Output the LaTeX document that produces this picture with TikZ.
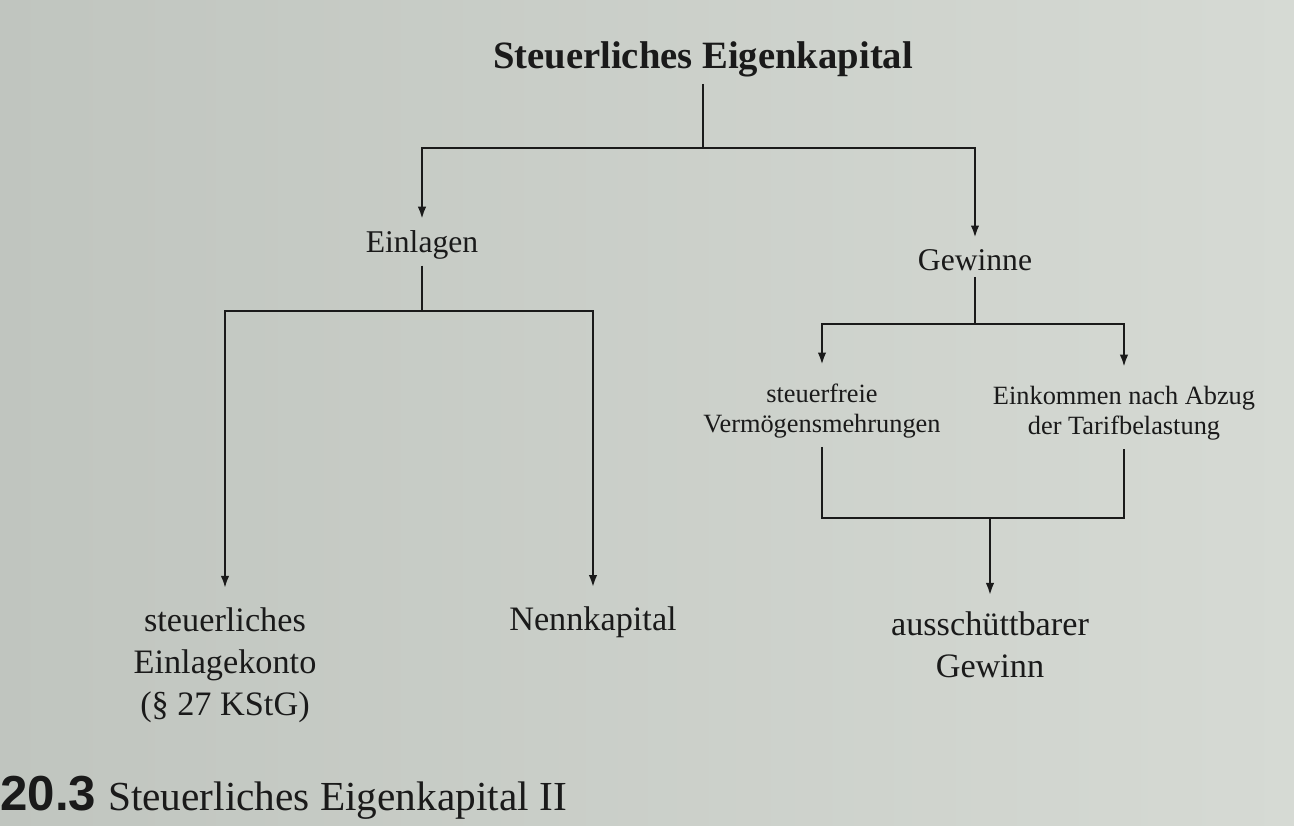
\documentclass[tikz,border=0pt]{standalone}
\usepackage{fontspec}
\setmainfont{Liberation Serif}
\newfontfamily\capsans{Liberation Sans}
\usetikzlibrary{arrows.meta}
\usetikzlibrary{calc}
\definecolor{paper}{RGB}{224,227,221}
\definecolor{paperdark}{RGB}{192,197,191}
\definecolor{paperright}{RGB}{214,218,212}
\definecolor{ink}{RGB}{26,26,26}

\begin{document}
\begin{tikzpicture}[>={Latex[length=2.5mm,width=1.7mm]},
  line/.style={draw=ink, line width=1.6pt},
  arr/.style={line, ->},
  big/.style={text=ink, font=\fontsize{18}{24}\selectfont, align=center, inner sep=2pt},
  bottom/.style={text=ink, font=\fontsize{19.5}{24}\selectfont, align=center, inner sep=2pt},
  small/.style={text=ink, font=\fontsize{15}{17}\selectfont, align=center, inner sep=2pt}]

% background
\shade[left color=paperdark, middle color=paper, right color=paperright] (0,0) rectangle (25.88,-16.52);
\useasboundingbox (0,0) rectangle (25.88,-16.52);

% nodes
\node (titel) at (14.06,-1.18) [text=ink, font=\fontsize{22}{26}\bfseries] {Steuerliches Eigenkapital};
\node (einlagen) at (8.44,-4.9) [big] {Einlagen};
\node (gewinne) at (19.5,-5.2) [big] {Gewinne};
\node (konto) at (4.5,-13.3) [bottom] {steuerliches\\Einlagekonto\\(\S\ 27 KStG)};
\node (nennkapital) at (11.86,-12.44) [bottom] {Nennkapital};
\node (steuerfrei) at (16.44,-8.22) [small] {steuerfreie\\Vermögensmehrungen};
\node (einkommen) at (22.48,-8.26) [small] {Einkommen nach Abzug\\der Tarifbelastung};
\node (gewinn) at (19.8,-12.9) [bottom] {ausschüttbarer\\Gewinn};

% first level
\coordinate (j1) at (titel.south |- 0,-2.96);
\draw[line] (titel.south) ++(0,-0.02) -- (j1);
\draw[arr] (j1) -| ($(einlagen.north)+(0,0.15)$);
\draw[arr] (j1) -| ($(gewinne.north)+(0,0.15)$);

% Einlagen
\coordinate (j2) at (einlagen.south |- 0,-6.22);
\draw[line] (einlagen.south) ++(0,-0.05) -- (j2);
\draw[arr] (j2) -| ($(konto.north)+(0,0.3)$);
\draw[arr] (j2) -| ($(nennkapital.north)+(0,0.3)$);

% Gewinne
\coordinate (j3) at (gewinne.south |- 0,-6.48);
\draw[line] (gewinne.south) ++(0,-0.05) -- (j3);
\draw[arr] (j3) -| ($(steuerfrei.north)+(0,0.3)$);
\draw[arr] (j3) -| ($(einkommen.north)+(0,0.3)$);

% ausschuettbarer Gewinn
\coordinate (j4) at (0,-10.36);
\draw[line] ($(steuerfrei.south)+(0,-0.1)$) |- (einkommen.south |- j4) -- ($(einkommen.south)+(0,-0.1)$);
\draw[arr] (gewinn.north |- j4) -- ($(gewinn.north)+(0,0.25)$);

% caption
\node (caption) at (0,-15.96) [anchor=west, inner sep=0pt, text=ink, font=\fontsize{23.5}{26}\selectfont]
  {{\capsans\bfseries\fontsize{28}{28}\selectfont 20.3}\hspace{0.24cm}Steuerliches Eigenkapital II};

\end{tikzpicture}
\end{document}
